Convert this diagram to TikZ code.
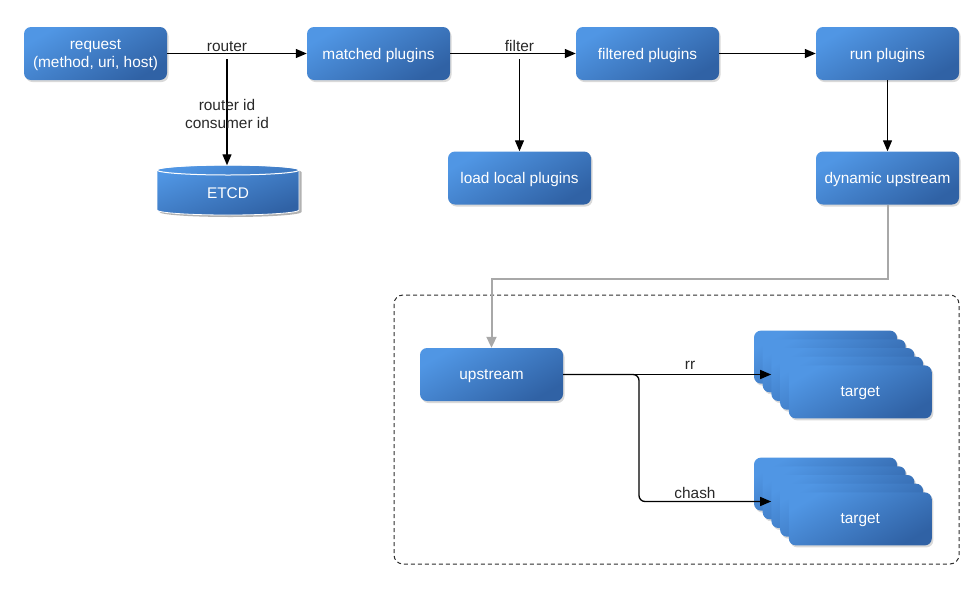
\documentclass[tikz,border=0pt]{standalone}
\usepackage{fontspec}
\setmainfont{Liberation Sans}
\usetikzlibrary{shadows,arrows.meta}
\definecolor{bluelight}{RGB}{80,150,228}
\definecolor{bluedark}{RGB}{48,98,165}
\definecolor{labelgray}{RGB}{40,40,40}
\definecolor{conngray}{RGB}{168,168,168}
\definecolor{framegray}{RGB}{45,45,45}
\tikzset{
  box/.style={rounded corners=7pt, minimum width=143pt, minimum height=53pt,
    inner sep=0pt, top color=bluelight, bottom color=bluedark, shading angle=30,
    text=white, align=center, font=\fontsize{15.4}{18}\selectfont, text depth=0pt,
    drop shadow={shadow xshift=1.5pt, shadow yshift=-2pt, opacity=0.3}},
  lbl/.style={text=labelgray, font=\fontsize{15.4}{18}\selectfont, align=center, inner sep=0pt},
  arr/.style={line width=1.3pt, black, -{Triangle[length=11pt,width=9pt]}},
  grayarr/.style={line width=2pt, conngray, -{Triangle[length=11pt,width=10pt]}},
  frame/.style={draw=framegray, line width=1pt, dash pattern=on 4pt off 3pt, rounded corners=9pt},
}
\begin{document}
\begin{tikzpicture}[x=1pt,y=-1pt]
\useasboundingbox (0,0) rectangle (975,603);

% dashed frame
\draw[frame] (394,295) rectangle (959,564);

% main boxes
\node[box] (req) at (95.5,53.5) {request\\(method, uri, host)};
\node[box] (mat) at (378.5,53.5) {matched plugins};
\node[box] (fil) at (647.5,53.5) {filtered plugins};
\node[box] (run) at (887.5,53.5) {run plugins};
\node[box] (load) at (519.5,178) {load local plugins};
\node[box] (dyn) at (887.5,178) {dynamic upstream};
\node[box] (up) at (491.5,374.5) {upstream};

% ETCD cylinder
\fill[black, opacity=0.3] (159.5,172) -- (159.5,212) arc[start angle=180, end angle=360, x radius=71pt, y radius=5pt] -- (301.5,172) arc[start angle=0, end angle=180, x radius=71pt, y radius=5pt] -- cycle;
\shade[top color=bluelight, bottom color=bluedark, shading angle=20, draw=white, line width=0.8pt]
  (157,170) -- (157,210) arc[start angle=180, end angle=360, x radius=71pt, y radius=5pt]
  -- (299,170) arc[start angle=0, end angle=180, x radius=71pt, y radius=5pt] -- cycle;
\draw[white, line width=1pt] (228,170) ellipse[x radius=71pt, y radius=5pt];
\node[minimum width=142pt, minimum height=56pt, inner sep=0pt, text=white,
  font=\fontsize{15.4}{18}\selectfont] (etcd) at (228,193.5) {ETCD};

% target stacks
\foreach \s/\dy in {1/0, 2/127} {
  \node[box] (t\s a) at (825.5,{357.1+\dy}) {};
  \node[box] (t\s b) at (834.2,{365.8+\dy}) {};
  \node[box] (t\s c) at (842.9,{374.5+\dy}) {};
  \node[box] (t\s d) at (851.6,{383.2+\dy}) {};
  \node[box] (t\s e) at (860.3,{391.9+\dy}) {target};
}

% connectors
\draw[arr] (req) -- (mat);
\node[lbl, anchor=base] (lrouter) at (227,51.5) {router};
\coordinate (rsplit) at (227,59);
\draw[arr] (rsplit) -- (etcd.north -| rsplit);
\node[lbl] (lids) at (227,113.5) {router id\\consumer id};

\draw[arr] (mat) -- (fil);
\node[lbl, anchor=base] (lfilter) at (519.5,51.5) {filter};
\coordinate (fsplit) at (519.5,59);
\draw[arr] (fsplit) -- (load);

\draw[arr] (fil) -- (run);
\draw[arr] (run) -- (dyn);

\draw[grayarr] (dyn.south) -- ++(0,74.5) -| (up.north);

\coordinate (branch) at (639,374.5);
\draw[arr] (up.east) -- (t1c.west);
\node[lbl, anchor=base] (lrr) at (690,369.5) {rr};
\draw[arr, rounded corners=6pt] (up.east) -- (branch) |- (t2c.west);
\node[lbl, anchor=base] (lchash) at (695,498) {chash};
\end{tikzpicture}
\end{document}
